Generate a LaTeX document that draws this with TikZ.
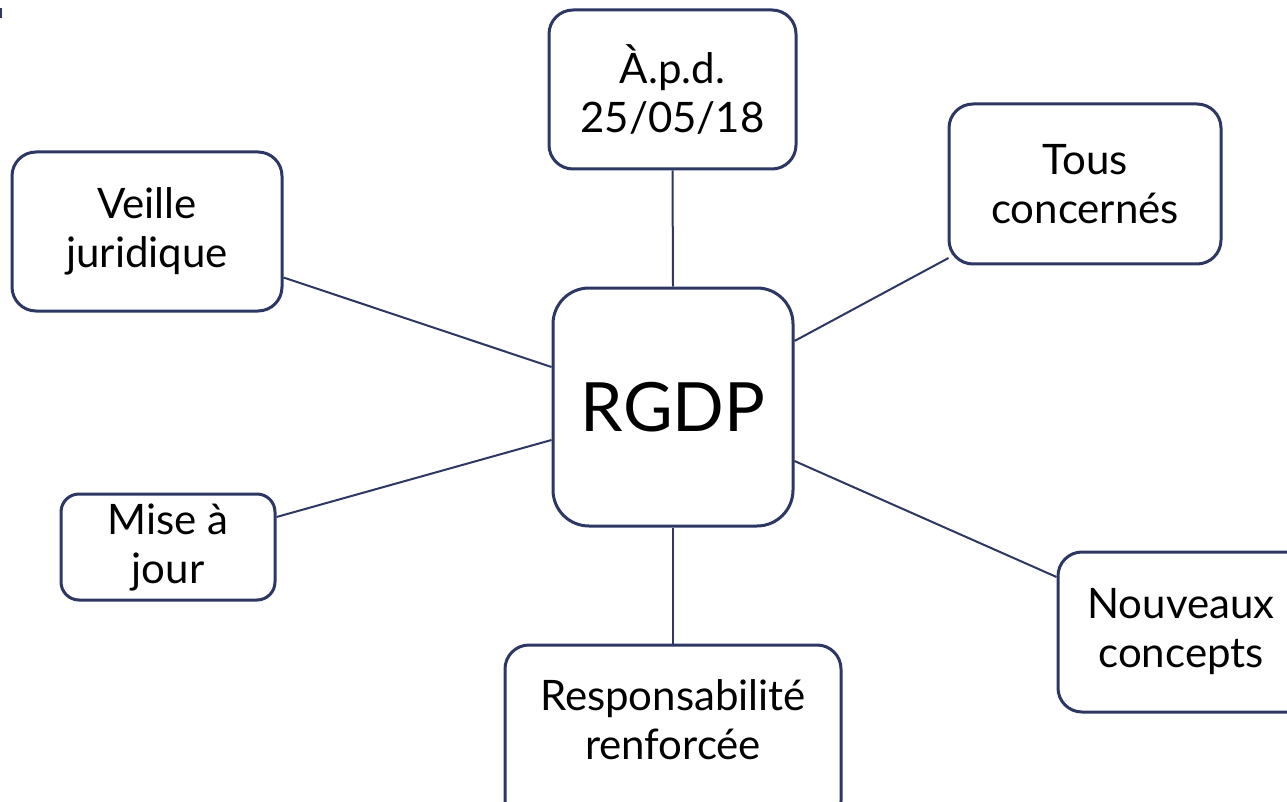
\documentclass[tikz,border=0pt]{standalone}
\usepackage{fontspec}
\setmainfont{Lato}
\usetikzlibrary{calc}
\definecolor{navy}{HTML}{2C3764}
\tikzset{
  box/.style={draw=navy, line width=3pt, fill=white, rounded corners=24pt, align=center,
    font=\fontsize{42}{49}\selectfont, text=black, inner sep=0pt},
  lbl/.style={align=center, font=\fontsize{42}{49}\selectfont, text=black, inner sep=0pt},
  link/.style={draw=navy, line width=2pt}
}
\begin{document}
\begin{tikzpicture}[x=1pt,y=-1pt]
\useasboundingbox (0,0) rectangle (1287,802);
\begin{scope}
\clip (0,0) rectangle (1287,802);
\fill[navy] (0,8) rectangle (2,18);
\node[box, minimum width=247pt, minimum height=159pt] (apd) at (672.5,89.5) {À.p.d.\\25/05/18};
\node[box, minimum width=272pt, minimum height=160pt] (tous) at (1085,184) {Tous\\concernés};
\node[box, minimum width=270pt, minimum height=159pt] (veille) at (147,231.5) {Veille\\juridique};
\node[box, minimum width=240pt, minimum height=238pt, rounded corners=36pt,
  font=\fontsize{68}{72}\selectfont] (rgdp) at (673,407) {RGDP};
\node[box, minimum width=214pt, minimum height=106pt, rounded corners=18pt] (mise) at (168,547) {Mise à\\jour};
\node[box, minimum width=336pt, minimum height=180pt] (resp) at (673,735) {};
\node[lbl] (resptxt) at (673,720) {Responsabilité\\renforcée};
\node[box, minimum width=260pt, minimum height=160pt] (nouv) at (1188,632) {};
\node[lbl] (nouvtxt) at (1181,632) {Nouveaux\\concepts};
\draw[link] (apd.south) -- (rgdp.north);
\draw[link] (resp.north) -- (rgdp.south);
\draw[link] ([yshift=-46pt]veille.east) -- ([yshift=40pt]rgdp.west);
\draw[link] ([yshift=30pt]mise.east) -- ([yshift=-33pt]rgdp.west);
\draw[link] ([xshift=1pt,yshift=-74pt]tous.west) -- ([yshift=66pt]rgdp.east);
\draw[link] ([yshift=55pt]nouv.west) -- ([yshift=-54pt]rgdp.east);
\end{scope}
\end{tikzpicture}
\end{document}
